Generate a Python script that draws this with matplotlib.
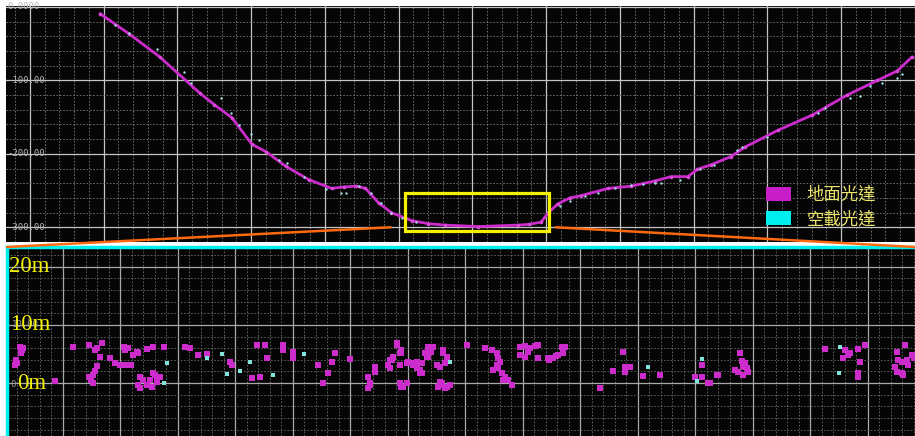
import numpy as np
import matplotlib
matplotlib.use("Agg")
import matplotlib.pyplot as plt
from matplotlib.patches import Rectangle, Patch, ConnectionPatch

# ---- top panel: cross section (x in m, elevation in m) ----
ground_x = [95, 135, 176, 230, 250, 274, 301, 320, 347, 378, 409, 426, 442, 455, 473,
            490, 518, 540, 563, 608, 662, 676, 693, 703, 716, 732, 747, 784, 815, 847,
            869, 892, 905, 923, 950, 969, 1014, 1061, 1108, 1149, 1176, 1196]
ground_y = [-9, -37, -68, -117, -133, -151, -187, -197, -217, -235, -247, -245, -244, -247, -267,
            -280, -291, -295, -297, -299, -297, -296, -293, -280, -268, -260, -257, -247, -244, -237,
            -231, -231, -221, -215, -204, -191, -168, -147, -120, -100, -87, -68]

air_x = [115, 135, 172, 209, 219, 259, 273, 284, 300, 311, 338, 349, 372, 401, 422, 428, 446,
         463, 476, 489, 504, 523, 719, 732, 753, 770, 793, 815, 831, 847, 855, 882, 909, 928,
         959, 966, 1000, 1068, 1078, 1112, 1126, 1139, 1155, 1176, 1182]
air_y = [-24, -35, -57, -88, -104, -124, -144, -161, -173, -181, -208, -213, -231, -248, -253, -253, -244,
         -253, -267, -280, -287, -293, -271, -264, -257, -253, -247, -243, -241, -240, -240, -235, -220, -215,
         -195, -191, -177, -144, -137, -124, -121, -108, -104, -97, -91]

top_yticks = [0, -100, -200, -300]
top_ylabels = ["0.0000", "-100.00", "-200.00", "-300.00"]

zoom_box = (508, 704, -305, -253)   # x0, x1, y0, y1

# ---- bottom panel: zoomed valley floor (m) ----
tls_x = [-7.5, -7.1, -7.3, -8.2, -8.3, -8.0, -7.0, -1.4, 1.7,
         4.5, 5.6, 5.9, 6.8, 6.4, 5.9, 5.6, 5.2, 4.9, 5.2, 4.5,
         8.2, 9.0, 9.9, 10.8, 10.6, 11.3, 11.0, 11.8, 12.2, 12.9, 13.0, 14.6, 15.7, 17.6,
         13.4, 13.9, 13.0, 14.6, 15.5, 16.0, 16.3, 16.9, 15.1, 13.4, 16.3, 15.7,
         21.2, 22.1, 23.5, 25.0,
         29.0, 29.4, 32.9, 34.3, 33.7, 35.1, 35.5, 38.3, 38.3, 40.0, 40.0,
         44.3, 45.2, 46.1, 46.8, 47.3, 49.9,
         53.0, 53.4, 53.0, 54.3, 54.3, 56.5, 57.2, 57.4, 56.9, 58.1, 58.9, 58.6, 58.9, 59.8,
         59.8, 60.9, 61.6, 62.1, 62.4, 63.3, 63.8, 64.3, 63.5, 65.0, 65.6, 66.1, 65.9, 66.8,
         66.4, 67.3, 63.5, 64.1, 63.0, 63.3, 62.4, 61.6, 62.1, 65.2, 65.9, 66.4, 65.6, 66.8,
         66.1, 56.9, 58.6, 58.9, 60.0, 60.9, 53.4, 58.6, 59.1, 58.1,
         70.3, 73.4, 74.6, 75.5, 75.7, 76.0, 75.5, 74.8, 75.7, 76.3, 76.9, 77.4, 78.1, 76.5,
         79.5, 80.3, 81.2, 82.1, 82.6, 79.5, 80.3, 82.6, 80.9,
         84.3, 85.2, 86.1, 87.0, 86.8, 87.3, 84.6, 85.7,
         93.4, 95.7, 97.4, 97.7, 97.7, 98.6, 100.9, 103.8,
         109.9, 111.1, 111.1, 112.2, 112.5, 113.7, 113.9,
         117.7, 118.1, 118.6, 116.9, 117.4, 119.0, 119.1, 118.3, 118.3, 118.6,
         132.5, 136.0, 135.7, 136.5, 136.9, 138.3, 139.5, 138.6, 138.3, 138.3,
         145.0, 146.4, 145.2, 145.9, 146.8, 147.0, 144.7, 145.0, 145.9, 146.1, 147.7, 148.0]
tls_y = [6.2, 5.7, 5.2, 4.0, 3.1, 3.4, 6.0, 0.3, 6.2,
         6.6, 5.7, 6.0, 6.9, 4.5, 2.9, 2.1, 1.4, 0.5, 0.0, 1.0,
         4.3, 3.4, 3.1, 5.7, 6.2, 6.0, 3.1, 3.1, 4.8, 5.3, 5.2, 5.9, 6.2, 6.2,
         1.0, 0.5, -0.3, -0.3, -0.7, 1.4, 0.9, 1.0, 0.5, -0.9, 0.2, 1.7,
         6.2, 6.0, 4.8, 5.0,
         3.6, 3.1, 0.9, 1.0, 6.6, 6.6, 4.3, 6.6, 5.7, 5.3, 4.3,
         3.1, 0.0, 1.7, 3.6, 5.2, 4.1,
         1.0, 0.0, -0.9, 2.8, 1.9, 3.1, 4.0, 4.5, 2.6, 6.6, 5.2, 3.1, -0.7, 0.0,
         3.4, 3.1, 3.6, 2.2, 1.7, 5.2, 6.0, 6.2, 4.5, 3.1, 2.8, 5.7, 0.0, -0.7,
         3.4, -0.3, 6.2, 5.3, 5.2, 4.5, 3.4, 2.6, 1.7, -0.7, -0.3, -0.9, 0.2, 4.5,
         5.2, 4.0, 5.2, 5.7, 3.6, 3.4, -0.3, 0.0, -0.7, 6.9,
         6.6, 6.0, 5.7, 5.2, 4.3, 3.6, 3.1, 2.2, 2.6, 1.7, 1.0, 0.5, -0.3, 0.5,
         6.2, 6.4, 6.0, 6.4, 6.6, 4.8, 4.5, 4.3, 5.3,
         4.3, 4.3, 4.8, 5.2, 6.2, 6.2, 4.0, 4.7,
         -0.9, 2.1, 5.3, 2.8, 1.9, 2.8, 1.2, 1.4,
         1.0, 3.1, 1.0, 0.0, 0.0, 1.4, 1.4,
         5.2, 3.8, 3.4, 2.2, 1.9, 2.6, 1.9, 1.4, 2.9, 2.8,
         5.9, 5.7, 4.3, 4.8, 5.2, 5.9, 6.6, 3.6, 1.7, 1.0,
         5.3, 6.6, 4.0, 3.6, 4.0, 3.1, 2.8, 1.9, 1.7, 1.4, 4.8, 4.3]

als_x = [18.1, 17.6, 25.0, 27.7, 28.5, 30.8, 32.5, 36.5, 41.9, 67.3, 101.7, 111.1, 110.3, 135.1, 135.0]
als_y = [3.4, 0.0, 4.3, 5.0, 1.6, 2.1, 3.6, 1.4, 5.0, 3.6, 2.8, 4.1, 0.3, 6.2, 1.7]

bot_ylabels = ["20m", "10m", "0m"]
bot_yticks = [20, 10, 0]
legend_labels = ["地面光達", "空載光達"]

MAGENTA = "#cc2ccc"
CYAN = "#00eeee"
BG = "#050505"


def style_grid(ax, xmaj, xmin, ymaj, ymin, major_color, minor_color):
    ax.set_facecolor(BG)
    ax.set_xticks(xmaj)
    ax.set_xticks(xmin, minor=True)
    ax.set_yticks(ymaj)
    ax.set_yticks(ymin, minor=True)
    ax.grid(which="major", color=major_color, lw=0.9, zorder=0)
    ax.grid(which="minor", color=minor_color, lw=0.6, ls=(0, (2, 2)), zorder=0)
    ax.tick_params(which="both", length=0, labelbottom=False, labelleft=False)
    ax.set_axisbelow(True)


fig = plt.figure(figsize=(9.15, 4.36), dpi=100, facecolor="white")

# top panel
ax1 = fig.add_axes([6 / 915, 194 / 436, 909 / 915, 236 / 436])
ax1.set_xlim(-32.4, 1196)
ax1.set_ylim(-313, 1.3)
style_grid(ax1, np.arange(0, 1201, 100), np.arange(-20, 1201, 20),
           np.arange(-300, 1, 100), np.arange(-320, 1, 20), "#c4c4c4", "#7a7a7a")
for s in ax1.spines.values():
    s.set_visible(False)

ax1.plot(ground_x, ground_y, color=MAGENTA, lw=2.0, zorder=3, solid_capstyle="round",
         marker="o", ms=2.6, mec="none", mfc="#d848d8")
ax1.scatter(air_x, air_y, s=3, color="#9fe2e8", lw=0, zorder=4)

for v, lab in zip(top_yticks, top_ylabels):
    ax1.text(0.002, v, lab, transform=ax1.get_yaxis_transform(), fontsize=6.5,
             family="DejaVu Sans Mono", color="#b8b8b8", va="center", ha="left", zorder=5)

bx0, bx1, by0, by1 = zoom_box
ax1.add_patch(Rectangle((bx0, by0), bx1 - bx0, by1 - by0, fill=False,
                        edgecolor="#f4f000", lw=2.3, zorder=6))

leg = ax1.legend(handles=[Patch(facecolor="#c81ec8"), Patch(facecolor=CYAN)],
                 labels=legend_labels, loc="upper left", bbox_to_anchor=(0.836, 0.237),
                 frameon=False, borderpad=0, borderaxespad=0, handlelength=1.44,
                 handleheight=0.86, handletextpad=0.9, labelspacing=0.35,
                 prop={"family": ["Noto Sans CJK TC", "DejaVu Sans"], "size": 12.5})
for t in leg.get_texts():
    t.set_color("#ece46c")

# bottom panel
ax2 = fig.add_axes([7 / 915, 0, 908 / 915, 189 / 436])
ax2.set_xlim(-9.7, 148.2)
ax2.set_ylim(-9.1, 23.4)
style_grid(ax2, np.arange(0, 150, 10), np.arange(-8, 150, 2),
           np.arange(0, 21, 10), np.arange(-8, 24, 2), "#a8a8a8", "#6a6a6a")
for name, s in ax2.spines.items():
    if name in ("top", "left"):
        s.set_color(CYAN)
        s.set_linewidth(2.5)
    else:
        s.set_visible(False)

ax2.scatter(tls_x, tls_y, s=13, marker="s", color=MAGENTA, lw=0, zorder=3)
ax2.scatter(als_x, als_y, s=7, marker="s", color="#7fe4dc", lw=0, zorder=4)

ax2.text(0.005, 10, "10.00", transform=ax2.get_yaxis_transform(), fontsize=6.5,
         family="DejaVu Sans Mono", color="#9a9a9a", va="center", zorder=5)
ax2.text(0.004, -0.3, "0", transform=ax2.get_yaxis_transform(), fontsize=6.5,
         family="DejaVu Sans Mono", color="#9a9a9a", va="center", zorder=5)
for v, lab, xo in zip(bot_yticks, bot_ylabels, [0.002, 0.003, 0.011]):
    ax2.text(xo, v, lab, transform=ax2.get_yaxis_transform(), fontsize=16.5,
             family="Liberation Serif", color="#f2f000", va="center", ha="left", zorder=6)

# connector lines from the zoom box to the lower panel
for xa, xb in [(bx0 - 19, 0), (bx1 + 9, 1)]:
    con = ConnectionPatch(xyA=(xa, -300), coordsA=ax1.transData,
                          xyB=(xb, 1), coordsB=ax2.transAxes,
                          color="#ff6a10", lw=1.8, zorder=10)
    fig.add_artist(con)

fig.savefig("out.png", dpi=100, facecolor="white")
